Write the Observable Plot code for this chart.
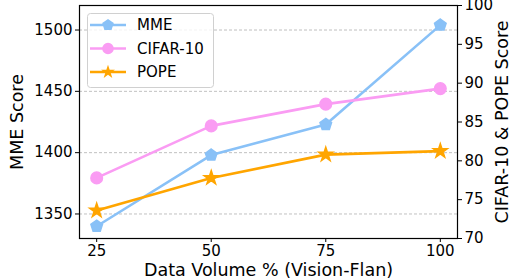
<!DOCTYPE html>
<html><head><meta charset="utf-8">
<script src="https://cdn.jsdelivr.net/npm/d3@7"></script>
<script src="https://cdn.jsdelivr.net/npm/@observablehq/plot@0.6"></script>
<style>
body{margin:0;background:#fff;font-family:"DejaVu Sans",sans-serif;}
#wrap{position:relative;width:511px;height:280px;overflow:hidden;}
#legend{position:absolute;left:87px;top:13px;}
</style></head><body><div id="wrap"><svg id="legend" width="127" height="75"></svg></div>
<script>
const volumes = [25, 50, 75, 100];
const mmeScores = [1340, 1398, 1423, 1504];
const cifarScores = [77.8, 84.5, 87.3, 89.3];
const popeScores = [73.6, 77.8, 80.8, 81.25];
const leftTicks = [1350, 1400, 1450, 1500];
const rightTicks = [70, 75, 80, 85, 90, 95, 100];
const xTicks = [25, 50, 75, 100];
const seriesNames = ["MME", "CIFAR-10", "POPE"];
const seriesColors = ["#89c1f7", "#fa9cf3", "#ffa500"];

const L0 = 1330, L1 = 1520, R0 = 70, R1 = 100;
const toLeft = v => L0 + (v - R0) * (L1 - L0) / (R1 - R0);
const fromLeft = v => R0 + (v - L0) * (R1 - R0) / (L1 - L0);

const pentagon = {draw(ctx, size) {
  const r = Math.sqrt(size / Math.PI) * 1.15;
  for (let i = 0; i < 5; i++) {
    const a = -Math.PI / 2 + i * 2 * Math.PI / 5;
    const x = r * Math.cos(a), y = r * Math.sin(a);
    i ? ctx.lineTo(x, y) : ctx.moveTo(x, y);
  }
  ctx.closePath();
}};
const symbols = [pentagon, "circle", "star"];
const radii = [5.3, 5.8, 4.4];

const series = [
  volumes.map((x, i) => ({x, y: mmeScores[i]})),
  volumes.map((x, i) => ({x, y: toLeft(cifarScores[i])})),
  volumes.map((x, i) => ({x, y: toLeft(popeScores[i])}))
];

const FS = 15;
const LFS = 17.5;
const marks = [
  Plot.gridY(leftTicks, {stroke: "#b0b0b0", strokeOpacity: 1, strokeDasharray: "3,2", strokeWidth: 0.8}),
  Plot.axisX(xTicks, {tickSize: 4, tickPadding: 3, fontSize: FS, label: null, tickFormat: d => String(d)}),
  Plot.axisY(leftTicks, {anchor: "left", tickSize: 4, tickPadding: 3, fontSize: FS, label: null, tickFormat: d => String(d)}),
  Plot.axisY(rightTicks.map(toLeft), {anchor: "right", tickSize: 4, tickPadding: 3, fontSize: FS, label: null, tickFormat: d => String(Math.round(fromLeft(d)))})
];
series.forEach((rows, k) => {
  marks.push(Plot.line(rows, {x: "x", y: "y", stroke: seriesColors[k], strokeWidth: 2.6}));
  marks.push(Plot.dot(rows, {x: "x", y: "y", symbol: symbols[k], r: radii[k], fill: seriesColors[k], stroke: seriesColors[k]}));
});
marks.push(
  Plot.frame({stroke: "#000", strokeWidth: 1.2}),
  Plot.text(["Data Volume % (Vision-Flan)"], {frameAnchor: "bottom", dy: 31.5, fontSize: LFS, textAnchor: "middle", lineAnchor: "middle"}),
  Plot.text(["MME Score"], {frameAnchor: "left", rotate: -90, dx: -62, fontSize: LFS, textAnchor: "middle", lineAnchor: "middle"}),
  Plot.text(["CIFAR-10 & POPE Score"], {frameAnchor: "right", rotate: -90, dx: 45, fontSize: LFS, textAnchor: "middle", lineAnchor: "middle"})
);

const chart = Plot.plot({
  width: 511, height: 280,
  marginLeft: 79, marginRight: 54, marginTop: 5, marginBottom: 42,
  style: {fontFamily: "DejaVu Sans", fontSize: FS + "px", color: "#000", background: "#fff", overflow: "visible"},
  x: {domain: [21.25, 103.75]},
  y: {domain: [L0, L1]},
  marks
});
document.getElementById("wrap").prepend(chart);

const lg = d3.select("#legend");
lg.append("rect").attr("x", 0.5).attr("y", 0.5).attr("width", 126).attr("height", 74).attr("rx", 3)
  .attr("fill", "rgba(255,255,255,0.8)").attr("stroke", "#d0d0d0");
const d3syms = [pentagon, d3.symbolCircle, d3.symbolStar];
seriesNames.forEach((name, k) => {
  const cy = 12 + k * 23.5;
  lg.append("line").attr("x1", 3).attr("x2", 39).attr("y1", cy).attr("y2", cy)
    .attr("stroke", seriesColors[k]).attr("stroke-width", 2.6);
  lg.append("path").attr("transform", `translate(21,${cy})`)
    .attr("d", d3.symbol(d3syms[k], Math.PI * radii[k] * radii[k])())
    .attr("fill", seriesColors[k]);
  lg.append("text").attr("x", 50).attr("y", cy).attr("dy", "0.35em")
    .attr("font-family", "DejaVu Sans").attr("font-size", 15).text(name);
});
</script>
</body></html>
